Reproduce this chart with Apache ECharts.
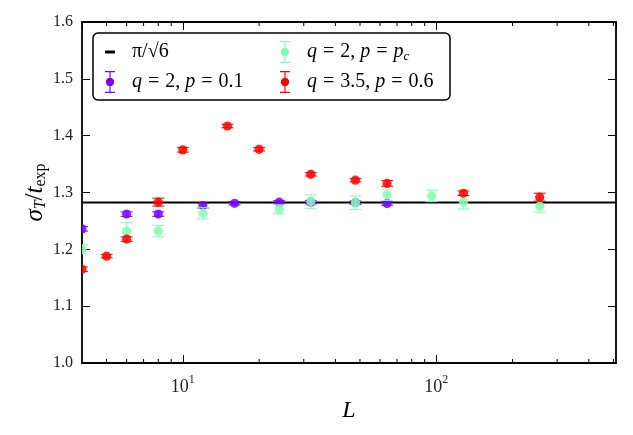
<!DOCTYPE html>
<html>
<head>
<meta charset="utf-8">
<script src="https://cdn.jsdelivr.net/npm/echarts@6/dist/echarts.min.js"></script>
<style>
  html, body { margin: 0; padding: 0; background: #fff; }
  #chart { width: 633px; height: 435px; }
</style>
</head>
<body>
<div id="chart"></div>
<script>
// reference value pi/sqrt(6)
const refValue = Math.PI / Math.sqrt(6);

// q = 2, p = 0.1
const lA = [4, 6, 8, 12, 16, 24, 32, 48, 64];
const yA = [1.236, 1.262, 1.262, 1.277, 1.281, 1.283, 1.283, 1.282, 1.2805];
const eA = [0.004, 0.004, 0.004, 0.004, 0.003, 0.003, 0.003, 0.003, 0.003];

// q = 2, p = p_c
const lB = [4, 6, 8, 12, 24, 32, 48, 64, 96, 128, 256];
const yB = [1.200, 1.232, 1.232, 1.2635, 1.2705, 1.284, 1.282, 1.296, 1.294, 1.283, 1.2764];
const eB = [0.008, 0.015, 0.010, 0.010, 0.008, 0.012, 0.012, 0.010, 0.010, 0.012, 0.011];

// q = 3.5, p = 0.6
const lC = [4, 5, 6, 8, 10, 15, 20, 32, 48, 64, 128, 256];
const yC = [1.165, 1.188, 1.218, 1.283, 1.375, 1.417, 1.376, 1.332, 1.3216, 1.316, 1.2987, 1.2917];
const eC = [0.004, 0.003, 0.004, 0.007, 0.004, 0.003, 0.003, 0.003, 0.003, 0.005, 0.004, 0.007];

// axis ticks
const yTicks = [1.0, 1.1, 1.2, 1.3, 1.4, 1.5, 1.6];
const xMinorTicks = [5, 6, 7, 8, 9, 20, 30, 40, 50, 60, 70, 80, 90, 200, 300, 400, 500];
const xMin = 4, xMax = 512;

const names = ['pi', 'qa', 'qb', 'qc'];
const labels = {
    pi: '{t|π/√6}',
    qa: '{i|q}{e|=}{t|2,}{i|p}{e|=}{t|0.1}',
    qb: '{i|q}{e|=}{t|2,}{i|p}{e|=}{i|p}{sub|c}',
    qc: '{i|q}{e|=}{t|3.5,}{i|p}{e|=}{t|0.6}'
};

const serif = 'Liberation Serif';
const ebIcon = 'path://M0,0 H10 V1.3 H0 Z M0,20.7 H10 V22 H0 Z M4.4,0 H5.6 V7 H4.4 Z M4.4,15 H5.6 V22 H4.4 Z M0.8,11 A4.2,4.2 0 1,0 9.2,11 A4.2,4.2 0 1,0 0.8,11 Z';
const dashIcon = 'path://M0,0 L0.01,0 M0,9.5 H10 V12.5 H0 Z M10,22 L9.99,22';

function pack(xs, ys, es) {
    return xs.map((x, i) => [x, ys[i], es[i]]);
}

function errorBar(color) {
    return function (params, api) {
        const x = api.value(0), y = api.value(1), e = api.value(2);
        const p = api.coord([x, y]);
        const hi = api.coord([x, y + e])[1];
        const lo = api.coord([x, y - e])[1];
        const cap = 6;
        const st = { stroke: color, lineWidth: 1.2, opacity: 0.85 };
        return {
            type: 'group',
            children: [
                { type: 'line', shape: { x1: p[0], y1: hi, x2: p[0], y2: lo }, style: st },
                { type: 'line', shape: { x1: p[0] - cap, y1: hi, x2: p[0] + cap, y2: hi }, style: st },
                { type: 'line', shape: { x1: p[0] - cap, y1: lo, x2: p[0] + cap, y2: lo }, style: st },
                { type: 'circle', shape: { cx: p[0], cy: p[1], r: 4.6 }, style: { fill: color, opacity: 0.85 } }
            ]
        };
    };
}

const rich = {
    t: { fontFamily: serif, fontSize: 20, color: '#000', padding: [0, 5, 0, 0] },
    e: { fontFamily: serif, fontSize: 20, color: '#000', padding: [0, 6, 0, 6] },
    i: { fontFamily: serif, fontStyle: 'italic', fontSize: 20, color: '#000' },
    sub: { fontFamily: serif, fontStyle: 'italic', fontSize: 13, color: '#000', padding: [9, 0, 0, 0] }
};

const chart = echarts.init(document.getElementById('chart'));

const axisLine = { lineStyle: { color: '#000', width: 1.8 } };

const option = {
    backgroundColor: '#fff',
    animation: false,
    grid: { left: 82, right: 17, top: 22, bottom: 72 },
    graphic: [{
        type: 'rect',
        shape: { x: 93, y: 33, width: 357, height: 67, r: 5 },
        style: { fill: '#fff', stroke: '#000', lineWidth: 1.5 },
        z: 10
    }],
    legend: [{
        data: [{ name: names[0], icon: dashIcon }, { name: names[1], icon: ebIcon }],
        orient: 'vertical',
        left: 105, top: 41, padding: 0,
        itemWidth: 10, itemHeight: 22, itemGap: 8,
        formatter: n => labels[n],
        textStyle: { rich: rich, padding: [0, 0, 0, 12] },
        selectedMode: false, z: 20
    }, {
        data: [{ name: names[2], icon: ebIcon }, { name: names[3], icon: ebIcon }],
        orient: 'vertical',
        left: 280, top: 41, padding: 0,
        itemWidth: 10, itemHeight: 22, itemGap: 8,
        formatter: n => labels[n],
        textStyle: { rich: rich, padding: [0, 0, 0, 12] },
        selectedMode: false, z: 20
    }],
    xAxis: [{
        type: 'log', logBase: 10, min: xMin, max: xMax,
        name: 'L', nameLocation: 'middle', nameGap: 36, nameMoveOverlap: false,
        nameTextStyle: { fontFamily: serif, fontStyle: 'italic', fontSize: 24, color: '#000', verticalAlign: 'top' },
        axisLine: axisLine,
        axisTick: { inside: true, length: 8, lineStyle: { color: '#000', width: 1 } },
        splitLine: { show: false },
        axisLabel: {
            margin: 11, showMinLabel: false, showMaxLabel: false,
            formatter: v => '{b|10}{s|' + Math.round(Math.log10(v)) + '}',
            rich: {
                b: { fontFamily: serif, fontSize: 18, color: '#222', verticalAlign: 'bottom', lineHeight: 22 },
                s: { fontFamily: serif, fontSize: 12, color: '#222', verticalAlign: 'top', lineHeight: 22 }
            }
        }
    }, {
        type: 'log', logBase: 10, min: xMin, max: xMax, position: 'top',
        axisLine: axisLine,
        axisTick: { inside: true, length: 8, lineStyle: { color: '#000', width: 1 } },
        axisLabel: { show: false }, splitLine: { show: false }
    }],
    yAxis: [{
        type: 'value', min: yTicks[0], max: yTicks[yTicks.length - 1], interval: 0.1,
        name: '{i|σ}{sub|T}{t|/}{i|t}{r|exp}', nameLocation: 'middle', nameGap: 33, nameRotate: 90,
        nameMoveOverlap: false,
        nameTextStyle: {
            rich: {
                t: { fontFamily: serif, fontSize: 25, color: '#000' },
                i: { fontFamily: serif, fontStyle: 'italic', fontSize: 25, color: '#000' },
                sub: { fontFamily: serif, fontStyle: 'italic', fontSize: 16, color: '#000', padding: [11, 0, 0, 0] },
                r: { fontFamily: serif, fontSize: 16, color: '#000', padding: [11, 0, 0, 0] }
            }
        },
        axisLine: axisLine,
        axisTick: { inside: true, length: 8, lineStyle: { color: '#000', width: 1 } },
        splitLine: { show: false },
        axisLabel: { margin: 9, fontFamily: serif, fontSize: 16, color: '#222', formatter: v => v.toFixed(1) }
    }, {
        type: 'value', min: yTicks[0], max: yTicks[yTicks.length - 1], interval: 0.1, position: 'right',
        axisLine: axisLine,
        axisTick: { inside: true, length: 8, lineStyle: { color: '#000', width: 1 } },
        axisLabel: { show: false }, splitLine: { show: false }
    }],
    series: [{
        name: names[0], type: 'line',
        data: [[xMin, refValue], [xMax, refValue]],
        showSymbol: false, symbol: 'none',
        lineStyle: { color: '#000', width: 2 }, itemStyle: { color: '#000' },
        z: 1
    }, {
        name: names[1], type: 'custom', clip: true,
        renderItem: errorBar('#7f00ff'), itemStyle: { color: '#7f00ff' },
        data: pack(lA, yA, eA), z: 2
    }, {
        name: names[2], type: 'custom', clip: true,
        renderItem: errorBar('#7fffb0'), itemStyle: { color: '#7fffb0' },
        data: pack(lB, yB, eB), z: 3
    }, {
        name: names[3], type: 'custom', clip: true,
        renderItem: errorBar('#ff0000'), itemStyle: { color: '#ff0000' },
        data: pack(lC, yC, eC), z: 4
    }, {
        // minor ticks of the log axis, bottom and top
        type: 'custom', silent: true,
        renderItem: function (params, api) {
            const v = api.value(0);
            const b = api.coord([v, yTicks[0]]);
            const t = api.coord([v, yTicks[yTicks.length - 1]]);
            const st = { stroke: '#000', lineWidth: 1 };
            return {
                type: 'group',
                children: [
                    { type: 'line', shape: { x1: b[0], y1: b[1], x2: b[0], y2: b[1] - 4 }, style: st },
                    { type: 'line', shape: { x1: t[0], y1: t[1], x2: t[0], y2: t[1] + 4 }, style: st }
                ]
            };
        },
        data: xMinorTicks.map(v => [v, yTicks[0]]),
        z: 5
    }]
};

chart.setOption(option);
</script>
</body>
</html>
